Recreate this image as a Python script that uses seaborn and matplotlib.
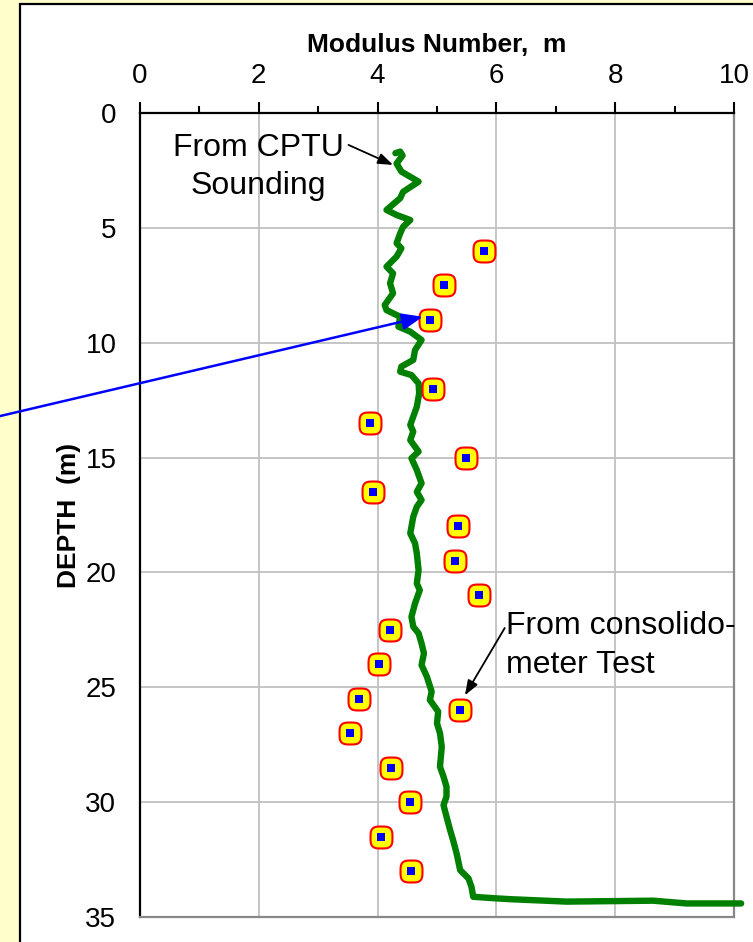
import numpy as np
import matplotlib.pyplot as plt
import matplotlib.patches as patches
from matplotlib.path import Path
import seaborn as sns

# Consolidometer test results (depth in m, modulus number m)
test_depth = [6.0, 7.5, 9.0, 12.0, 13.5, 15.0, 16.5, 18.0, 19.5, 21.0,
              22.5, 24.0, 25.5, 26.0, 27.0, 28.5, 30.0, 31.5, 33.0]
test_m = [5.79, 5.11, 4.89, 4.94, 3.88, 5.48, 3.93, 5.35, 5.31, 5.70,
          4.21, 4.02, 3.68, 5.38, 3.53, 4.22, 4.55, 4.05, 4.57]

# Modulus number profile from the CPTU sounding
cptu_depth = [1.75, 1.68, 1.85, 2.20, 2.55, 2.99, 3.43, 3.71, 4.22, 4.44,
              4.66, 4.95, 5.24, 5.67, 5.89, 6.25, 6.69, 6.98, 7.41, 7.85,
              8.36, 8.58, 8.87, 9.30, 9.52, 9.88, 10.32, 10.75, 11.04, 11.26,
              11.41, 11.77, 12.20, 12.79, 13.22, 13.58, 13.87, 14.24, 14.74, 15.03,
              15.54, 16.12, 16.49, 16.85, 17.14, 17.58, 18.30, 18.73, 19.17, 19.90,
              20.48, 20.77, 21.35, 21.93, 22.36, 22.65, 23.09, 23.52, 24.03, 24.54,
              25.19, 25.55, 26.06, 26.57, 27.00, 27.59, 28.46, 28.89, 29.33, 29.76,
              30.13, 30.63, 31.21, 31.65, 32.23, 32.96, 33.32, 33.68, 34.12, 34.19,
              34.23, 34.33, 34.29, 34.41, 34.41]
cptu_m = [4.30, 4.38, 4.42, 4.32, 4.40, 4.69, 4.43, 4.38, 4.15, 4.32,
          4.55, 4.43, 4.38, 4.32, 4.40, 4.32, 4.15, 4.26, 4.21, 4.26,
          4.12, 4.15, 4.38, 4.35, 4.55, 4.74, 4.63, 4.60, 4.40, 4.38,
          4.57, 4.69, 4.70, 4.66, 4.60, 4.55, 4.60, 4.55, 4.69, 4.57,
          4.66, 4.74, 4.66, 4.74, 4.66, 4.60, 4.55, 4.63, 4.66, 4.69,
          4.66, 4.71, 4.63, 4.57, 4.60, 4.69, 4.74, 4.78, 4.74, 4.83,
          4.91, 4.88, 5.02, 5.00, 5.05, 5.08, 5.05, 5.11, 5.16, 5.16,
          5.11, 5.16, 5.22, 5.27, 5.33, 5.39, 5.53, 5.58, 5.61, 6.00,
          6.28, 7.18, 8.64, 9.20, 10.12]

x_ticks = [0, 2, 4, 6, 8, 10]
y_ticks = [0, 5, 10, 15, 20, 25, 30, 35]

sns.set_style("white")
plt.rcParams["font.family"] = ["Liberation Sans", "DejaVu Sans"]
plt.rcParams["text.color"] = "black"
plt.rcParams["axes.labelcolor"] = "black"
plt.rcParams["xtick.color"] = "black"
plt.rcParams["ytick.color"] = "black"

fig = plt.figure(figsize=(7.53, 9.42), dpi=100, facecolor="#FFFFCC")
# white chart area with black frame
fig.patches.append(patches.Rectangle((20 / 753, -0.1), 1.1, 1.1 - 4 / 942,
                                     transform=fig.transFigure, facecolor="white",
                                     edgecolor="black", lw=1.6, zorder=-1))
ax = fig.add_axes([140 / 753, 1 - 917 / 942, 594 / 753, 804 / 942])
ax.set_facecolor("white")

# rounded square marker
t = np.linspace(0, 2 * np.pi, 80)
rx = np.sign(np.cos(t)) * np.abs(np.cos(t)) ** 0.6
ry = np.sign(np.sin(t)) * np.abs(np.sin(t)) ** 0.6
rsq = Path(np.column_stack([rx, ry]), closed=True)

sns.lineplot(x=cptu_m, y=cptu_depth, sort=False, estimator=None, ax=ax,
             color="#008000", lw=4.6, clip_on=False, legend=False,
             solid_joinstyle="round", solid_capstyle="round", zorder=3)
sns.scatterplot(x=test_m, y=test_depth, marker=rsq, s=250, color="yellow",
                edgecolor="red", linewidth=1.5, ax=ax, zorder=4, legend=False)
sns.scatterplot(x=test_m, y=test_depth, marker="s", s=30, color="blue",
                linewidth=0, ax=ax, zorder=5, legend=False)

ax.set_xlim(0, 10)
ax.set_ylim(35, 0)
ax.set_xticks(x_ticks)
ax.set_xticks(np.arange(1, 10, 2), minor=True)
ax.set_yticks(y_ticks)
ax.set_yticks(np.arange(0, 36, 1), minor=True)
ax.xaxis.tick_top()
ax.tick_params(axis="both", which="both", direction="out", width=1.5,
               color="black", labelcolor="black", labelsize=20)
ax.tick_params(axis="x", which="major", length=8, pad=9)
ax.tick_params(axis="x", which="minor", length=5)
ax.tick_params(axis="y", which="major", length=10, pad=7)
ax.tick_params(axis="y", which="minor", length=6)
ax.grid(True, which="major", color="#c0c0c0", lw=1.3)
ax.set_axisbelow(True)

for side in ["left", "top"]:
    ax.spines[side].set_color("black")
    ax.spines[side].set_linewidth(1.6)
for side in ["right", "bottom"]:
    ax.spines[side].set_color("#888888")
    ax.spines[side].set_linewidth(1.6)

ax.xaxis.set_label_position("top")
ax.set_xlabel("Modulus Number,  m", fontsize=19, fontweight="bold", color="black")
ax.xaxis.set_label_coords(0.5, 1.076)
ax.set_ylabel("DEPTH  (m)", fontsize=19, fontweight="bold", color="black")
ax.yaxis.set_label_coords(-0.10, 0.5)

ax.text(1.99, 2.35, "From CPTU\nSounding", fontsize=23, ha="center",
        va="center", linespacing=1.38, color="black", zorder=6)
ax.text(6.16, 23.18, "From consolido-\nmeter Test", fontsize=23, ha="left",
        va="center", linespacing=1.38, color="black", zorder=6)

ax.annotate("", xy=(4.26, 2.26), xytext=(3.51, 1.39),
            arrowprops=dict(arrowstyle="-|>,head_length=0.6,head_width=0.22",
                            color="black", lw=1.3, mutation_scale=15,
                            shrinkA=0, shrinkB=0), zorder=6)
ax.annotate("", xy=(5.47, 25.35), xytext=(6.14, 22.42),
            arrowprops=dict(arrowstyle="-|>,head_length=0.6,head_width=0.22",
                            color="black", lw=1.3, mutation_scale=15,
                            shrinkA=0, shrinkB=0), zorder=6)
ax.annotate("", xy=(4.76, 8.87), xytext=(-2.45, 13.25), annotation_clip=False,
            arrowprops=dict(arrowstyle="-|>,head_length=0.5,head_width=0.2",
                            color="blue", lw=1.8, mutation_scale=25,
                            shrinkA=0, shrinkB=0), zorder=6)

fig.savefig("out.png", dpi=100, facecolor=fig.get_facecolor())
